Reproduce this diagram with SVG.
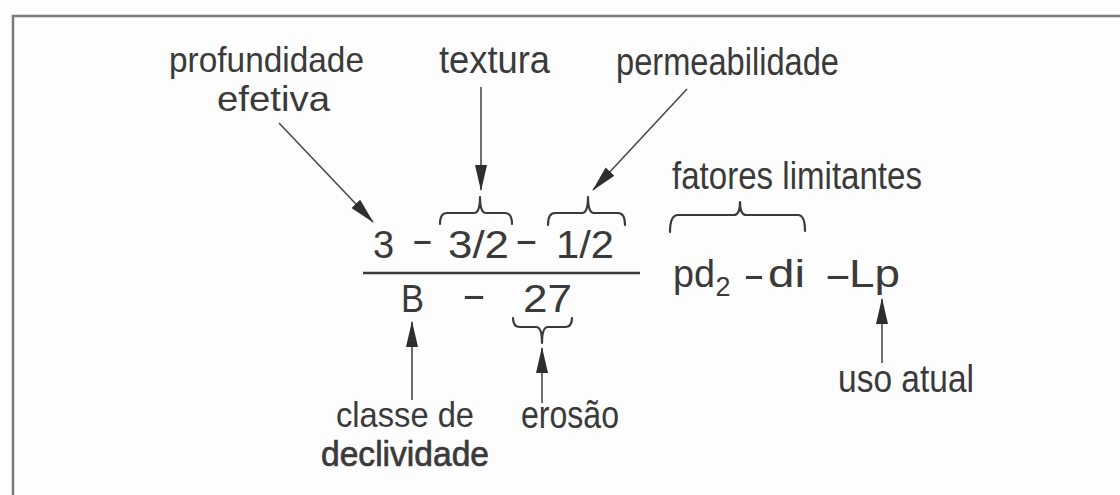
<svg xmlns="http://www.w3.org/2000/svg" width="1120" height="495" viewBox="0 0 1120 495">
  <defs>
    <marker id="ah" viewBox="0 0 26 14" refX="25" refY="7" markerWidth="26" markerHeight="14" markerUnits="userSpaceOnUse" orient="auto">
      <path d="M0,1 L26,7 L0,13 Z" fill="#2e2e2e"/>
    </marker>
  </defs>
  <style>
    .t { font-family: "Liberation Sans", Arial, sans-serif; font-size: 38px; fill: #3a3a3a; }
    .two { font-size: 35px; }
    .sub { font-size: 27px; }
    .bold { stroke: #3a3a3a; stroke-width: 0.7; }
    .arrow { fill: none; stroke: #4a4a4a; stroke-width: 1.6; marker-end: url(#ah); }
    .brace { fill: none; stroke: #3a3a3a; stroke-width: 2.2; stroke-linejoin: round; stroke-linecap: round; }
    .frame { fill: none; stroke: #7a7a7a; stroke-width: 2.5; }
  </style>
  <rect x="0" y="0" width="1120" height="495" fill="#fdfdfd"/>
  <g id="frame">
    <polyline class="frame" points="13,495 13,16 1120,16"/>
  </g>

  <g id="formula">
    <text class="t" x="373" y="258">3</text>
    <text class="t" x="422.5" y="253" text-anchor="middle" textLength="22" lengthAdjust="spacingAndGlyphs">-</text>
    <text class="t" x="448" y="258" textLength="61" lengthAdjust="spacingAndGlyphs">3/2</text>
    <text class="t" x="526.5" y="253" text-anchor="middle" textLength="24" lengthAdjust="spacingAndGlyphs">-</text>
    <text class="t" x="556" y="258" textLength="58" lengthAdjust="spacingAndGlyphs">1/2</text>
    <line x1="363" y1="273" x2="640" y2="273" stroke="#3a3a3a" stroke-width="2.6"/>
    <text class="t" x="401" y="312" textLength="23" lengthAdjust="spacingAndGlyphs">B</text>
    <text class="t" x="474" y="308" text-anchor="middle" textLength="25" lengthAdjust="spacingAndGlyphs">-</text>
    <text class="t" x="523" y="312" textLength="49" lengthAdjust="spacingAndGlyphs">27</text>
  </g>

  <g id="limitantes-codes">
    <text class="t" x="673" y="287" textLength="42" lengthAdjust="spacingAndGlyphs">pd</text>
    <text class="t sub" x="715.5" y="296">2</text>
    <text class="t" x="754" y="288" text-anchor="middle" textLength="22" lengthAdjust="spacingAndGlyphs">-</text>
    <text class="t" x="768" y="287" textLength="37" lengthAdjust="spacingAndGlyphs">di</text>
    <text class="t" x="838" y="288" text-anchor="middle" textLength="28" lengthAdjust="spacingAndGlyphs">-</text>
    <text class="t" x="849" y="287" textLength="51" lengthAdjust="spacingAndGlyphs">Lp</text>
  </g>

  <g id="profundidade-efetiva">
    <text class="t two" x="169" y="72" textLength="195" lengthAdjust="spacingAndGlyphs">profundidade</text>
    <text class="t two" x="217" y="111" textLength="113" lengthAdjust="spacingAndGlyphs">efetiva</text>
  </g>
  <g id="textura">
    <text class="t" x="439" y="73" textLength="111" lengthAdjust="spacingAndGlyphs">textura</text>
  </g>
  <g id="permeabilidade">
    <text class="t" x="616" y="75" textLength="223" lengthAdjust="spacingAndGlyphs">permeabilidade</text>
  </g>
  <g id="fatores-limitantes">
    <text class="t" x="672" y="189" textLength="250" lengthAdjust="spacingAndGlyphs">fatores limitantes</text>
  </g>
  <g id="uso-atual">
    <text class="t" x="838" y="392" textLength="136" lengthAdjust="spacingAndGlyphs">uso atual</text>
  </g>
  <g id="classe-de-declividade">
    <text class="t two" x="336" y="427" textLength="138" lengthAdjust="spacingAndGlyphs">classe de</text>
    <text class="t two bold" x="321" y="466" textLength="168" lengthAdjust="spacingAndGlyphs">declividade</text>
  </g>
  <g id="erosao">
    <text class="t" x="521" y="428" textLength="98" lengthAdjust="spacingAndGlyphs">erosão</text>
  </g>

  <g id="braces">
    <path class="brace" d="M440,224 Q440,213 447,213 L474,213 Q480,213 480,197 Q480,213 486,213 L505,213 Q512,213 512,224"/>
    <path class="brace" d="M548,225 Q548,213 555,213 L582,213 Q588,213 588,197 Q588,213 594,213 L618,213 Q625,213 625,225"/>
    <path class="brace" d="M670,232 Q670,215 678,215 L734,215 Q740,215 740,202 Q740,215 746,215 L798,215 Q805,215 805,231"/>
    <path class="brace" d="M513,318 Q513,327 520,327 L536,327 Q542,327 542,343 Q542,327 548,327 L565,327 Q572,327 572,318"/>
  </g>

  <g id="connectors">
    <line class="arrow" x1="279" y1="123" x2="373" y2="222"/>
    <line class="arrow" x1="481" y1="87" x2="481" y2="190"/>
    <line class="arrow" x1="687" y1="89" x2="593" y2="190"/>
    <line class="arrow" x1="412" y1="400" x2="412" y2="322"/>
    <line class="arrow" x1="542" y1="403" x2="542" y2="348"/>
    <line class="arrow" x1="882" y1="363" x2="882" y2="299"/>
  </g>
</svg>
